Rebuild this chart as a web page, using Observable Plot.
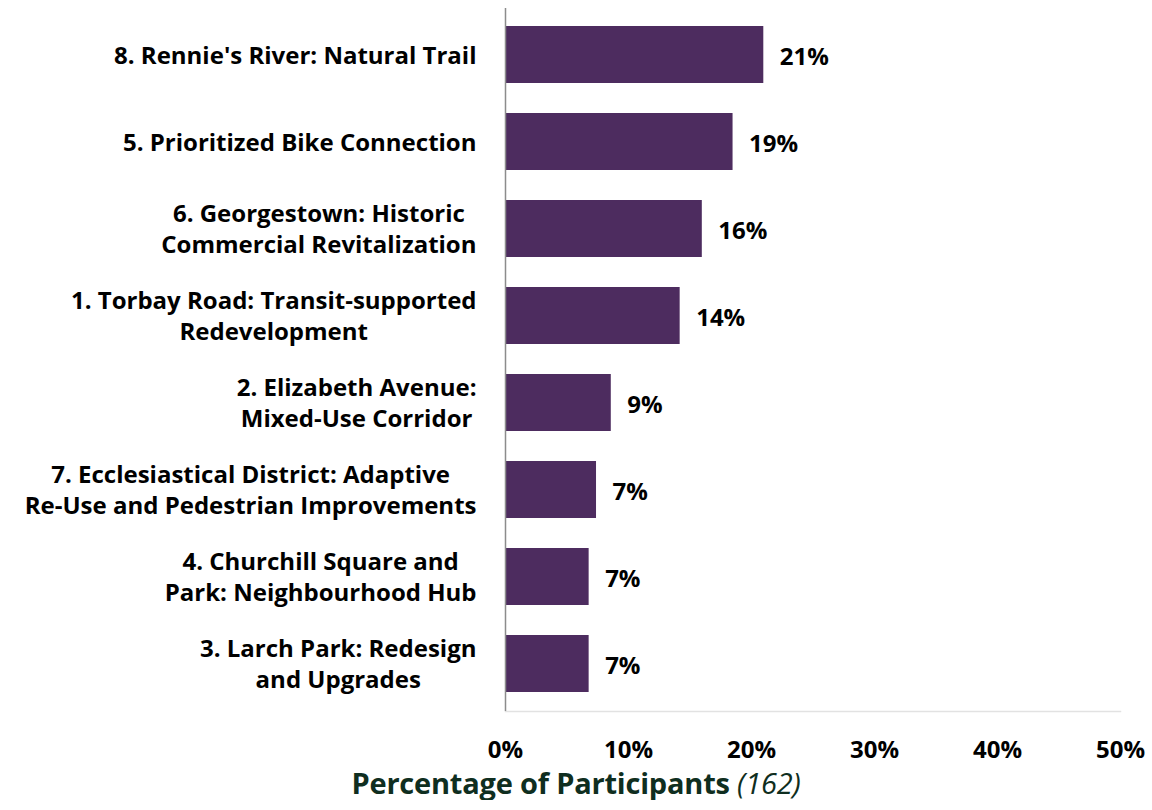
<!DOCTYPE html>
<html>
<head>
<meta charset="utf-8">
<script src="https://cdn.jsdelivr.net/npm/d3@7"></script>
<script src="https://cdn.jsdelivr.net/npm/@observablehq/plot@0.6"></script>
<style>
  html, body { margin: 0; padding: 0; background: #fff; }
  #chart { width: 1152px; }
  #xtitle {
    width: 1152px; text-align: center;
    font-family: "Open Sans", Lato, sans-serif; font-weight: 700; font-size: 29px;
    color: #0f2e20; line-height: 34px; margin-top: 0px; letter-spacing: -0.2px;
  }
  #xtitle span { font-weight: 400; font-style: italic; }
</style>
</head>
<body>
<div id="chart"></div>
<div id="xtitle">Percentage of Participants <span>(162)</span></div>
<script>
const categories = [
  "8. Rennie's River: Natural Trail",
  "5. Prioritized Bike Connection",
  "6. Georgestown: Historic\nCommercial Revitalization",
  "1. Torbay Road: Transit-supported\nRedevelopment",
  "2. Elizabeth Avenue:\nMixed-Use Corridor",
  "7. Ecclesiastical District: Adaptive\nRe-Use and Pedestrian Improvements",
  "4. Churchill Square and\nPark: Neighbourhood Hub",
  "3. Larch Park: Redesign\nand Upgrades"
];
const percents = [21.0, 18.5, 16.0, 14.2, 8.6, 7.4, 6.8, 6.8];
const valueLabels = ["21%", "19%", "16%", "14%", "9%", "7%", "7%", "7%"];
const xTicks = [0, 10, 20, 30, 40, 50];

const data = categories.map((c, i) => ({category: c, value: percents[i], label: valueLabels[i]}));

const FONT = "'Open Sans', Lato, sans-serif";
const FS = 24;
const LINE_H = 31;
const GAP = 29;

// measure label widths to center lines within a right-aligned block
const ctx = document.createElement("canvas").getContext("2d");
ctx.font = `700 ${FS}px 'Open Sans'`;
const labelMarks = categories.map(c => {
  const lines = c.split("\n");
  const W = Math.max(...lines.map(l => ctx.measureText(l).width));
  return lines.map((line, j) => Plot.text([{category: c, line}], {
    x: () => 0, y: "category", text: "line",
    textAnchor: "middle",
    dx: -(GAP + W / 2),
    dy: (j - (lines.length - 1) / 2) * LINE_H + 1,
    fontSize: FS, fontWeight: 700, fill: "#000"
  }));
}).flat();

const chart = Plot.plot({
  width: 1152,
  height: 766,
  marginLeft: 505,
  marginRight: 32,
  marginTop: 8,
  marginBottom: 55,
  style: {fontFamily: FONT, background: "#fff"},
  x: {domain: [0, 50], ticks: xTicks},
  y: {domain: categories, paddingInner: 0.34, paddingOuter: 0.17},
  marks: [
    Plot.frame({anchor: "bottom", stroke: "#e2e2e2", strokeWidth: 1.5}),
    Plot.barX(data, {x: "value", y: "category", fill: "#4d2c5f"}),
    Plot.ruleX([0], {stroke: "#8c8c8c", strokeWidth: 1.5}),
    Plot.text(data, {x: "value", y: "category", text: "label", textAnchor: "start", dx: 16, dy: 2,
      fontSize: FS, fontWeight: 700, fill: "#000"}),
    ...labelMarks,
    Plot.axisX({ticks: xTicks, tickFormat: d => d + "%", tickSize: 0, tickPadding: 29,
      fontSize: FS, fontWeight: 700, fill: "#000", label: null}),
    Plot.axisY({ticks: [], label: null})
  ]
});
document.getElementById("chart").appendChild(chart);
</script>
</body>
</html>
